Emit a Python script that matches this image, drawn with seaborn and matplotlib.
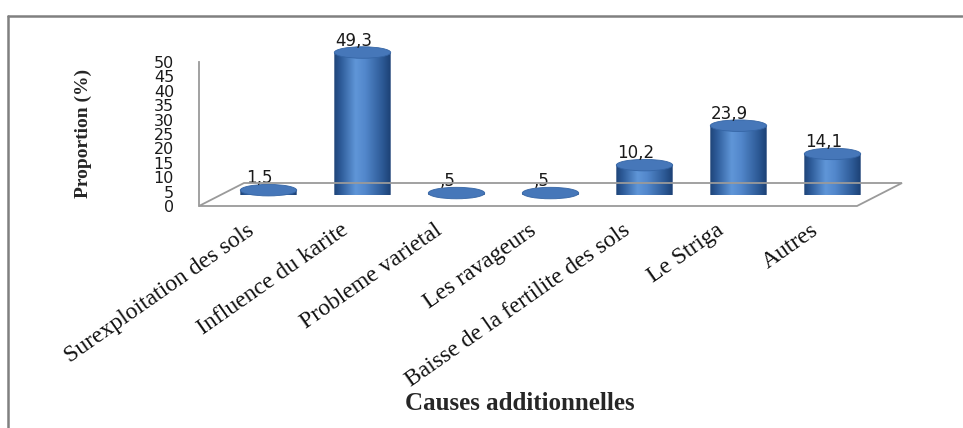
import numpy as np
import pandas as pd
import matplotlib
matplotlib.use("Agg")
import matplotlib.pyplot as plt
from matplotlib.colors import LinearSegmentedColormap
from matplotlib.patches import Ellipse, PathPatch, Polygon
from matplotlib.path import Path
from matplotlib.lines import Line2D
import seaborn as sns

# ---- data -------------------------------------------------------------
causes = [
    "Surexploitation des sols",
    "Influence du karite",
    "Probleme varietal",
    "Les ravageurs",
    "Baisse de la fertilite des sols",
    "Le Striga",
    "Autres",
]
proportions = [1.5, 49.3, 0.5, 0.5, 10.2, 23.9, 14.1]
value_labels = ["1,5", "49,3", ",5", ",5", "10,2", "23,9", "14,1"]
y_ticks = [0, 5, 10, 15, 20, 25, 30, 35, 40, 45, 50]

df = pd.DataFrame({"cause": causes, "proportion": proportions})

# ---- layout (pixels) --------------------------------------------------
W, H = 963, 428
def fx(px):
    return px / W
def fy(py):
    return 1 - py / H

FRONT_LEFT, FRONT_RIGHT, FRONT_BASE = 199, 857, 206
PLOT_H = 144
DEPTH = (45, 23)           # floor depth offset (right, up)
MID = (DEPTH[0] / 2, DEPTH[1] / 2)

sns.set_style("white")
plt.rcParams["font.family"] = ["DejaVu Sans"]

fig = plt.figure(figsize=(W / 100, H / 100), dpi=100)

# front plane: value axis and category labels
ax = fig.add_axes([fx(FRONT_LEFT), fy(FRONT_BASE),
                   (FRONT_RIGHT - FRONT_LEFT) / W, PLOT_H / H])
ax.set_facecolor("none")
ax.set_xlim(-0.5, len(causes) - 0.5)
ax.set_ylim(0, 50)
ax.set_yticks(y_ticks)
ax.set_yticklabels([str(t) for t in y_ticks], fontsize=11.5,
                   family="DejaVu Sans", color="#1a1a1a")
ax.set_xticks(range(len(causes)))
ax.set_xticklabels(causes, rotation=35, ha="right", rotation_mode="anchor",
                   fontsize=17, family="Liberation Serif", color="#111111")
ax.tick_params(axis="y", length=0, pad=18)
ax.tick_params(axis="x", length=0, pad=10)
for side in ["top", "right", "bottom"]:
    ax.spines[side].set_visible(False)
ax.spines["left"].set_color("#9a9a9a")
ax.spines["left"].set_linewidth(1.3)
ax.grid(False)

# floor of the 3-D box
floor = [
    (fx(FRONT_LEFT), fy(FRONT_BASE)),
    (fx(FRONT_RIGHT), fy(FRONT_BASE)),
    (fx(FRONT_RIGHT + DEPTH[0]), fy(FRONT_BASE - DEPTH[1])),
    (fx(FRONT_LEFT + DEPTH[0]), fy(FRONT_BASE - DEPTH[1])),
]
fig.patches.append(Polygon(floor, closed=True, fill=False, edgecolor="#9a9a9a",
                           linewidth=1.3, transform=fig.transFigure, zorder=1))

# mid-depth plane: the cylinders
axb = fig.add_axes([fx(FRONT_LEFT + MID[0]), fy(FRONT_BASE - MID[1]),
                    (FRONT_RIGHT - FRONT_LEFT) / W, PLOT_H / H])
axb.set_facecolor("none")
sns.barplot(data=df, x="cause", y="proportion", order=causes, width=0.6,
            color="#3f6fb0", errorbar=None, ax=axb, zorder=2)
axb.set_xlim(-0.5, len(causes) - 0.5)
axb.set_ylim(0, 50)
axb.set_axis_off()

body_cmap = LinearSegmentedColormap.from_list(
    "cyl", [(0.0, "#1f4478"), (0.12, "#2d5b99"), (0.38, "#6096d8"),
            (0.55, "#5287cb"), (0.85, "#2d5a96"), (1.0, "#1c4074")])
gradient = np.linspace(0, 1, 256).reshape(1, -1)

ell_h = 11.5 / (PLOT_H / 50)     # ellipse height in data units
for bar in list(axb.patches):
    x0 = bar.get_x()
    w = bar.get_width()
    h = bar.get_height()
    cx = x0 + w / 2
    bar.set_visible(False)

    t = np.linspace(np.pi, 2 * np.pi, 60)
    arc = np.column_stack([cx + w / 2 * np.cos(t), ell_h / 2 * np.sin(t)])
    verts = np.vstack([[x0, h], [x0, 0], arc, [x0 + w, 0], [x0 + w, h], [x0, h]])
    codes = [Path.MOVETO] + [Path.LINETO] * (len(verts) - 2) + [Path.CLOSEPOLY]
    clip = PathPatch(Path(verts, codes), transform=axb.transData)

    im = axb.imshow(gradient, cmap=body_cmap, aspect="auto",
                    extent=(x0, x0 + w, -ell_h / 2, h), zorder=2,
                    interpolation="bicubic")
    im.set_clip_path(clip)

    top = Ellipse((cx, h), w, ell_h, facecolor="#4677b9", edgecolor="#3565a5",
                  linewidth=0.6, zorder=3, clip_on=False)
    axb.add_patch(top)

axb.set_xlim(-0.5, len(causes) - 0.5)
axb.set_ylim(0, 50)

for i, (v, lab) in enumerate(zip(proportions, value_labels)):
    axb.annotate(lab, (i, v), xytext=(-9, 12), textcoords="offset pixels",
                 ha="center", va="center", fontsize=12, color="#1a1a1a",
                 family="DejaVu Sans", annotation_clip=False, zorder=4)

# axis titles
fig.text(fx(83), fy(133), "Proportion (%)", rotation=90, ha="center",
         va="center", fontsize=14, fontweight="bold", family="Liberation Serif")
fig.text(fx(520), fy(410), "Causes additionnelles", ha="center",
         va="baseline", fontsize=18, fontweight="bold", family="Liberation Serif")

# outer frame (top and left edges)
fig.lines.append(Line2D([fx(7.5), fx(962)], [fy(15.5), fy(15.5)],
                        transform=fig.transFigure, color="#808080", linewidth=1.8))
fig.lines.append(Line2D([fx(7.5), fx(7.5)], [fy(15.5), fy(428)],
                        transform=fig.transFigure, color="#808080", linewidth=1.8))

fig.savefig("out.png", dpi=100, facecolor="white")
